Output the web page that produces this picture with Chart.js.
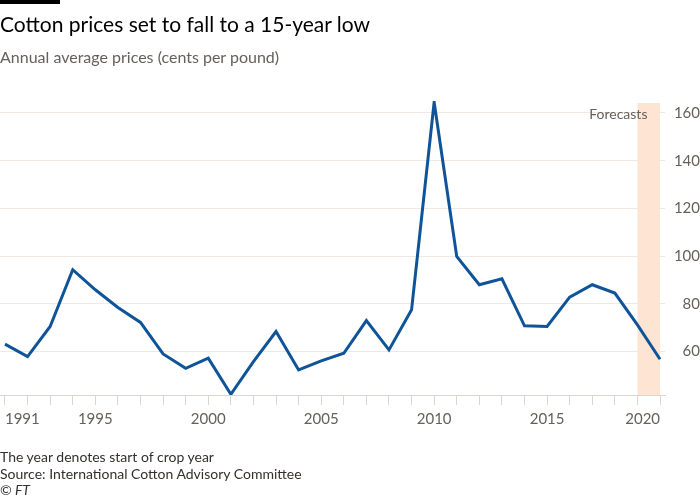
<!DOCTYPE html>
<html>
<head>
<meta charset="utf-8">
<script src="https://cdn.jsdelivr.net/npm/chart.js@4.4.1/dist/chart.umd.min.js"></script>
<style>
  html, body { margin: 0; padding: 0; background: #fff; }
  #wrap { position: relative; width: 700px; height: 500px; font-family: Lato, "Open Sans", sans-serif; }
  #bar { position: absolute; left: 0; top: 0; width: 60px; height: 4px; background: #000; }
  #title { position: absolute; left: 0; top: 11px; font-size: 21px; color: #000; white-space: nowrap; }
  #subtitle { position: absolute; left: 0; top: 47px; font-size: 16px; color: #66605c; white-space: nowrap; }
  #foot { position: absolute; left: 0; top: 449px; font-size: 14px; line-height: 16.5px; color: #33302e; }
  #foot i { font-style: italic; }
  canvas { position: absolute; left: 0; top: 0; }
</style>
</head>
<body>
<div id="wrap">
  <canvas id="chart" width="700" height="500"></canvas>
  <div id="bar"></div>
  <div id="title">Cotton prices set to fall to a 15-year low</div>
  <div id="subtitle">Annual average prices (cents per pound)</div>
  <div id="foot">
    The year denotes start of crop year<br>
    Source: International Cotton Advisory Committee<br>
    <i>© FT</i>
  </div>
</div>
<script>
// crop years and annual average cotton price, cents per pound
const years = [
    1991, 1992, 1993, 1994, 1995, 1996, 1997, 1998, 1999, 2000,
    2001, 2002, 2003, 2004, 2005, 2006, 2007, 2008, 2009, 2010,
    2011, 2012, 2013, 2014, 2015, 2016, 2017, 2018, 2019, 2020,
];
const prices = [
    63.1, 57.9, 70.5, 94.3, 85.9, 78.5, 72.2, 59.0, 53.0, 57.2,
    42.1, 55.8, 68.4, 52.3, 56.1, 59.3, 73.0, 60.7, 77.5, 164.5,
    99.9, 88.0, 90.5, 70.8, 70.5, 82.8, 88.0, 84.5, 71.2, 56.8,
];
const yTicks = [60, 80, 100, 120, 140, 160];
const xLabels = [1991, 1995, 2000, 2005, 2010, 2015, 2020];
const forecastStart = 2019;
const forecastEnd = 2020;
const forecastLabel = "Forecasts";

const forecastBand = {
    id: "forecastBand",
    beforeDatasetsDraw(chart) {
        const { ctx, chartArea, scales } = chart;
        const x0 = scales.x.getPixelForValue(forecastStart);
        const x1 = scales.x.getPixelForValue(forecastEnd);
        ctx.save();
        ctx.fillStyle = "#fde4d3";
        ctx.fillRect(x0, chartArea.top + 2, x1 - x0, chartArea.bottom - chartArea.top - 2);
        ctx.fillStyle = "#66605c";
        ctx.font = "14px Lato, 'Open Sans', sans-serif";
        ctx.textAlign = "right";
        ctx.textBaseline = "middle";
        ctx.fillText(forecastLabel, x0 + 10, scales.y.getPixelForValue(159.5));
        ctx.restore();
    },
};

// x labels: first left-aligned, last right-aligned, the rest centred
const yearLabels = {
    id: "yearLabels",
    afterDraw(chart) {
        const { ctx, scales } = chart;
        ctx.save();
        ctx.fillStyle = "#66605c";
        ctx.font = "15px Lato, 'Open Sans', sans-serif";
        ctx.textBaseline = "middle";
        xLabels.forEach((yr, i) => {
            ctx.textAlign = i === 0 ? "left" : (i === xLabels.length - 1 ? "right" : "center");
            ctx.fillText(String(yr), scales.x.getPixelForValue(yr), scales.x.top + 24);
        });
        ctx.restore();
    },
};

new Chart(document.getElementById("chart"), {
    type: "line",
    data: {
        datasets: [{
            data: years.map((y, i) => ({ x: y, y: prices[i] })),
            borderColor: "#0f5499",
            borderWidth: 3,
            pointRadius: 0,
            tension: 0,
            borderJoinStyle: "miter",
        }],
    },
    options: {
        responsive: false,
        animation: false,
        layout: { padding: { top: 101, left: 0, right: 0, bottom: 70 } },
        plugins: { legend: { display: false }, tooltip: { enabled: false } },
        scales: {
            x: {
                type: "linear",
                min: 1990.78,
                max: 2020.22,
                afterBuildTicks: (scale) => { scale.ticks = years.map((v) => ({ value: v })); },
                afterFit: (scale) => { scale.height = 35; },
                ticks: { display: false },
                grid: {
                    drawOnChartArea: false,
                    drawTicks: true,
                    tickLength: 10,
                    color: "#ddd6cf",
                },
                border: { display: true, color: "#ddd6cf", width: 1 },
            },
            y: {
                position: "right",
                min: 41.8,
                max: 165,
                afterBuildTicks: (scale) => { scale.ticks = yTicks.map((v) => ({ value: v })); },
                afterFit: (scale) => { scale.width = 35; },
                ticks: {
                    crossAlign: "far",
                    padding: 4,
                    color: "#66605c",
                    font: { family: "Lato, 'Open Sans', sans-serif", size: 15 },
                },
                grid: { drawTicks: false, color: "#f0e9e3" },
                border: { display: false },
            },
        },
    },
    plugins: [forecastBand, yearLabels],
});
</script>
</body>
</html>
